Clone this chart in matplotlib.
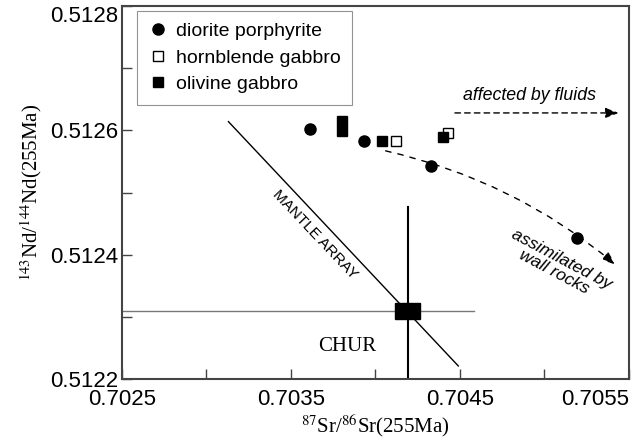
import matplotlib
matplotlib.use('Agg')
import matplotlib.pyplot as plt
from matplotlib.patches import Rectangle

# Datos
diorita_sr = [0.70361, 0.70393, 0.70433, 0.70519]
diorita_nd = [0.512602, 0.512583, 0.512543, 0.512427]

hornblenda_sr = [0.70412, 0.70443]
hornblenda_nd = [0.512583, 0.512596]

olivino_sr = [0.70380, 0.70380, 0.70404, 0.70440]
olivino_nd = [0.512615, 0.512599, 0.512583, 0.512589]

chur_sr = 0.70419
chur_nd = 0.51231

manto_sr = [0.70313, 0.70449]
manto_nd = [0.512614, 0.512221]

x_ticks = [0.7025, 0.7035, 0.7045, 0.7055]
x_minor = [0.7030, 0.7040, 0.7050]
y_ticks = [0.5122, 0.5124, 0.5126, 0.5128]
y_minor = [0.5123, 0.5125, 0.5127]

plt.rcParams['font.family'] = ['Liberation Sans', 'DejaVu Sans']
plt.rcParams['mathtext.fontset'] = 'stix'

fig = plt.figure(figsize=(6.44, 4.45), dpi=100)
ax = fig.add_axes([0.1894, 0.1483, 0.7873, 0.8382])

# Linea del manto
ax.plot(manto_sr, manto_nd, color='black', lw=1.0)
ax.text(0.703642, 0.512433, 'MANTLE ARRAY', rotation=-46.6, fontsize=11,
        ha='center', va='center', rotation_mode='anchor')

# CHUR
ax.plot([0.7025, 0.70458], [chur_nd, chur_nd], color='#777777', lw=1.0)
ax.plot([chur_sr, chur_sr], [0.5122, 0.512477], color='black', lw=1.5)
ax.add_patch(Rectangle((chur_sr - 0.000074, chur_nd - 0.0000129), 0.000148, 0.0000258,
                       color='black', zorder=4))
ax.text(0.70383, 0.512252, 'CHUR', family='Liberation Serif', fontsize=15,
        ha='center', va='center')

# Muestras
ax.plot(diorita_sr, diorita_nd, 'o', color='black', ms=8, label='diorite porphyrite', zorder=5)
ax.plot(hornblenda_sr, hornblenda_nd, 's', mfc='white', mec='black', mew=1.0, ms=7,
        label='hornblende gabbro', zorder=5)
ax.plot(olivino_sr, olivino_nd, 's', color='black', ms=7, label='olivine gabbro', zorder=5)

# Flechas
ax.annotate('', xy=(0.70544, 0.512628), xytext=(0.70447, 0.512628),
            arrowprops=dict(arrowstyle='-|>,head_length=0.8,head_width=0.3', color='black',
                            lw=1.0, linestyle=(0, (4, 3)), shrinkA=0, shrinkB=0))
ax.text(0.70491, 0.512642, 'affected by fluids', style='italic', fontsize=12.8,
        ha='center', va='bottom')

ax.annotate('', xy=(0.70542, 0.512384), xytext=(0.70406, 0.512567),
            arrowprops=dict(arrowstyle='-|>,head_length=0.8,head_width=0.3', color='black',
                            lw=1.0, linestyle=(0, (4, 5)), shrinkA=0, shrinkB=0,
                            connectionstyle='arc3,rad=-0.12'))
ax.text(0.70508, 0.512382, 'assimilated by\nwall rocks', style='italic', fontsize=12.6,
        ha='center', va='center', rotation=-28, rotation_mode='anchor', linespacing=1.0)

ax.set_xlim(0.7025, 0.7055)
ax.set_ylim(0.5122, 0.5128)
ax.set_xticks(x_ticks, labels=[f'{v:.4f}' for v in x_ticks])
ax.set_xticks(x_minor, minor=True)
ax.set_yticks(y_ticks, labels=[f'{v:.4f}' for v in y_ticks])
ax.set_yticks(y_minor, minor=True)
ax.tick_params(which='both', direction='in', length=7, width=1.0, color='#444444',
               labelsize=16)
ax.tick_params(axis='x', pad=7)
ax.tick_params(axis='y', pad=3)

# Las etiquetas de los extremos quedan dentro de la figura
ax.xaxis.get_major_ticks()[-1].label1.set_horizontalalignment('right')
ax.yaxis.get_major_ticks()[-1].label1.set_verticalalignment('top')

for s in ax.spines.values():
    s.set_color('#444444')
    s.set_linewidth(1.5)

ax.set_xlabel(r'$^{87}$Sr/$^{86}$Sr(255Ma)', family='Liberation Serif', fontsize=15, labelpad=2)
ax.set_ylabel(r'$^{143}$Nd/$^{144}$Nd(255Ma)', family='Liberation Serif', fontsize=15, labelpad=4)

leg = ax.legend(loc='upper left', bbox_to_anchor=(0.0296, 0.9866), borderaxespad=0,
                fontsize=14, frameon=True, fancybox=False, handletextpad=0.4,
                handlelength=1.0, labelspacing=0.45, borderpad=0.6)
leg.get_frame().set_edgecolor('#777777')
leg.get_frame().set_linewidth(0.8)

fig.savefig('out.png', dpi=100)
